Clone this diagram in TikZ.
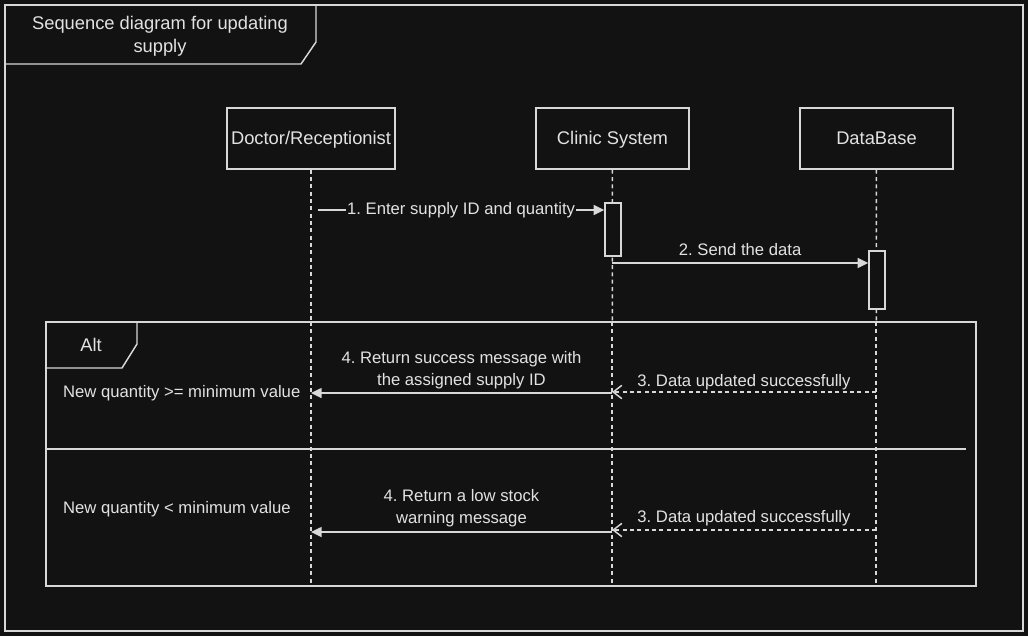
\documentclass[tikz,border=0pt]{standalone}
\usepackage{fontspec}
\setmainfont{Liberation Sans}
\usepackage{xcolor}
\definecolor{NightBg}{HTML}{121212}
\definecolor{PaleLine}{HTML}{D8D8D8}
\definecolor{PaleText}{HTML}{E2E2E2}
\usetikzlibrary{arrows.meta}
\frenchspacing

\begin{document}
\begin{tikzpicture}[x=0.75pt,y=-0.75pt,>={Triangle[length=8pt,width=7.5pt]},
  every node/.style={font=\fontsize{12.5}{16.5}\selectfont,text=PaleText},
  line width=1.1pt,
  bigtext/.style={font=\fontsize{13.75}{17.25}\selectfont},
  lifebox/.style={draw=PaleLine,fill=NightBg,minimum width=126pt,minimum height=45.75pt,inner sep=0pt,
    text height=2.2ex,text depth=0.5ex,bigtext},
  actbar/.style={draw=PaleLine,fill=NightBg,minimum width=12pt,inner sep=0pt},
  lifeline/.style={draw=PaleLine,dash pattern=on 3pt off 2.5pt},
  msg/.style={draw=PaleLine,->},
  reply/.style={draw=PaleLine,dash pattern=on 3pt off 2.5pt,-{Straight Barb[length=6.5pt,width=10pt]}},
  frame/.style={draw=PaleLine,fill=NightBg}]
\useasboundingbox (0,0) rectangle (1028,636);
\fill[NightBg] (0,0) rectangle (1028,636);
\draw[PaleLine] (5,5) rectangle (1023,631);
\draw[PaleLine] (5,5) -- (316,5) -- (316,42) -- (301,64) -- (5,64);
\node[align=center,bigtext] (title) at (160,36) {Sequence diagram for updating\\supply};

\node[lifebox] (doctor) at (311,138.5) {Doctor/Receptionist};
\node[lifebox,minimum width=114.75pt] (clinic) at (612.5,138.5) {Clinic System};
\node[lifebox,minimum width=114.75pt] (database) at (876.5,138.5) {DataBase};
\coordinate (doctorend) at (311,586);
\coordinate (clinicend) at (612,586);
\coordinate (databaseend) at (876,586);
\draw[lifeline] (doctor) -- (doctorend);
\draw[lifeline] (clinic) -- (clinicend);
\draw[lifeline] (database) -- (databaseend);

\node[actbar,minimum height=39.75pt] (clinicact) at (613,229.5) {};
\node[actbar,minimum height=43.5pt] (databaseact) at (877,280) {};

\coordinate (entrystart) at (318,210);
\draw[msg] (entrystart) -- (clinicact.west |- entrystart)
  node[midway,fill=NightBg,inner xsep=1pt] {1. Enter supply ID and quantity};
\coordinate (sendstart) at (612,263);
\draw[msg] (sendstart) -- (databaseact.west |- sendstart)
  node[midway,above,yshift=1.5pt] {2. Send the data};

\draw[frame] (46,322) rectangle (976,586);
\draw[PaleLine] (46,322) -- (137,322) -- (137,344) -- (122,368) -- (46,368);
\node[bigtext] (alt) at (91,345) {Alt};
\draw[PaleLine] (46,449) -- (966,449);
\draw[lifeline] (311,322) -- (doctorend);
\draw[lifeline] (612,322) -- (clinicend);
\draw[lifeline] (876,322) -- (databaseend);

\node[anchor=west] (okcond) at (58,393) {New quantity >= minimum value};
\node[anchor=west] (lowcond) at (58,509) {New quantity < minimum value};

\coordinate (okdb) at (876,392);
\coordinate (okclinic) at (612,392);
\coordinate (okdoctor) at (311,393);
\draw[reply] (okdb) -- (okclinic)
  node[midway,above,yshift=-2pt] {3. Data updated successfully};
\draw[msg] (okclinic |- okdoctor) -- (okdoctor)
  node[midway,above,align=center,yshift=-1pt] {4. Return success message with\\the assigned supply ID};

\coordinate (lowdb) at (876,530);
\coordinate (lowclinic) at (612,530);
\coordinate (lowdoctor) at (311,532);
\draw[reply] (lowdb) -- (lowclinic)
  node[midway,above,yshift=-0.5pt] {3. Data updated successfully};
\draw[msg] (lowclinic |- lowdoctor) -- (lowdoctor)
  node[midway,above,align=center,yshift=0pt] {4. Return a low stock\\warning message};
\end{tikzpicture}
\end{document}
